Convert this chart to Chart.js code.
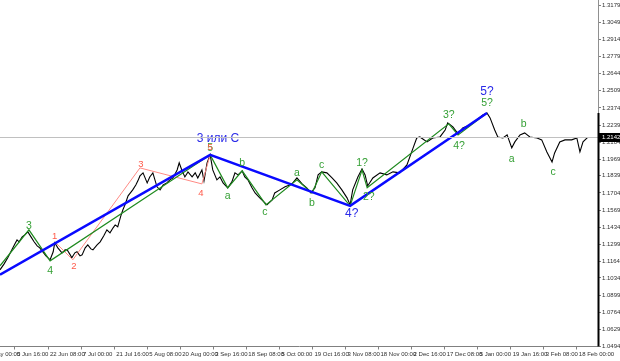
<!DOCTYPE html>
<html>
<head>
<meta charset="utf-8">
<script src="https://cdn.jsdelivr.net/npm/chart.js@4.4.1/dist/chart.umd.min.js"></script>
<style>
    html, body { margin: 0; padding: 0; background: #fff; }
    canvas { display: block; }
</style>
</head>
<body>
<canvas id="WaveChart" width="620" height="361"></canvas>
<script>
// x values are H4 bar numbers, counted from the left edge of the chart
const timeTickBars = [-35, 29, 93, 157, 221, 285, 349, 413, 477, 541, 605, 669, 733, 797, 861, 925, 989, 1053, 1117];
const timeTickLabels = ["22 May 00:00", "5 Jun 16:00", "22 Jun 08:00", "7 Jul 00:00", "21 Jul 16:00", "5 Aug 08:00",
    "20 Aug 00:00", "3 Sep 16:00", "18 Sep 08:00", "5 Oct 00:00", "19 Oct 16:00", "3 Nov 08:00", "18 Nov 00:00",
    "2 Dec 16:00", "17 Dec 08:00", "5 Jan 00:00", "19 Jan 16:00", "3 Feb 08:00", "18 Feb 00:00"];
const priceTicks = [1.3179, 1.3049, 1.2914, 1.2779, 1.2644, 1.2509, 1.2374, 1.2239, 1.2104, 1.1969, 1.1839,
    1.1704, 1.1569, 1.1434, 1.1299, 1.1164, 1.1034, 1.0899, 1.0764, 1.0629, 1.0494];
const lastPrice = 1.2142;

const priceBars = [0, 8, 15, 23, 29, 33, 37, 43, 48, 54, 60, 66, 72, 77, 83, 89, 97, 103, 106, 112,
    120, 126, 130, 136, 139, 145, 149, 155, 159, 165, 170, 176, 180, 188, 194, 201, 207, 213, 219, 223,
    228, 234, 238, 242, 248, 254, 257, 263, 267, 271, 277, 285, 290, 296, 304, 310, 316, 323, 329, 335,
    343, 347, 352, 358, 364, 372, 378, 383, 391, 395, 401, 407, 412, 420, 426, 432, 441, 449, 455, 461,
    469, 474, 480, 488, 494, 503, 513, 517, 527, 532, 542, 552, 561, 567, 575, 585, 594, 602, 610, 616,
    623, 633, 643, 652, 662, 672, 678, 683, 693, 701, 707, 712, 722, 736, 749, 761, 774, 788, 800, 807,
    813, 827, 838, 852, 862, 867, 877, 887, 896, 910, 923, 935, 943, 949, 958, 964, 974, 982, 991, 997,
    1007, 1016, 1026, 1040, 1049, 1059, 1069, 1074, 1084, 1094, 1107, 1117, 1123, 1129, 1138];
const priceCloses = [1.1098, 1.1145, 1.1193, 1.1256, 1.1303, 1.1334, 1.1319, 1.1358, 1.1374, 1.1397,
    1.1358, 1.1319, 1.1287, 1.1271, 1.1240, 1.1208, 1.1177, 1.1240, 1.1311, 1.1271,
    1.1232, 1.1256, 1.1256, 1.1216, 1.1193, 1.1232, 1.1240, 1.1208, 1.1216, 1.1271,
    1.1295, 1.1263, 1.1256, 1.1295, 1.1319, 1.1366, 1.1413, 1.1389, 1.1429, 1.1452,
    1.1437, 1.1523, 1.1571, 1.1610, 1.1681, 1.1712, 1.1728, 1.1767, 1.1799, 1.1838,
    1.1862, 1.1783, 1.1830, 1.1862, 1.1752, 1.1728, 1.1767, 1.1783, 1.1807, 1.1822,
    1.1885, 1.1941, 1.1885, 1.1830, 1.1870, 1.1830, 1.1862, 1.1822, 1.1885, 1.1799,
    1.1941, 1.2004, 1.1885, 1.1807, 1.1830, 1.1783, 1.1744, 1.1791, 1.1862, 1.1846,
    1.1877, 1.1830, 1.1807, 1.1744, 1.1704, 1.1665, 1.1626, 1.1610, 1.1649, 1.1704,
    1.1728, 1.1752, 1.1767, 1.1783, 1.1822, 1.1775, 1.1744, 1.1704, 1.1744, 1.1846,
    1.1870, 1.1862, 1.1822, 1.1783, 1.1728, 1.1665, 1.1610, 1.1728, 1.1830, 1.1893,
    1.1846, 1.1759, 1.1822, 1.1862, 1.1846, 1.1870, 1.1862, 1.1925, 1.2059, 1.2137,
    1.2145, 1.2106, 1.2137, 1.2145, 1.2200, 1.2256, 1.2224, 1.2169, 1.2216, 1.2240,
    1.2279, 1.2319, 1.2334, 1.2295, 1.2200, 1.2145, 1.2137, 1.2161, 1.2059, 1.2106,
    1.2161, 1.2177, 1.2145, 1.2137, 1.2122, 1.2027, 1.1948, 1.2019, 1.2106, 1.2122,
    1.2122, 1.2137, 1.2027, 1.2106, 1.2142];

// wave counts
const blueWaveBars = [0, 407, 678, 943];
const blueWavePrices = [1.1059, 1.2004, 1.1602, 1.2334];
const greenWaveBars = [0, 56, 97, 407, 441, 469, 515, 575, 604, 623, 678, 701, 711, 869, 887, 943];
const greenWavePrices = [1.1130, 1.1413, 1.1169, 1.2004, 1.1744, 1.1878, 1.1610, 1.1807, 1.1704, 1.1870,
    1.1602, 1.1885, 1.1744, 1.2248, 1.2161, 1.2334];
const redWaveBars = [108, 141, 271, 391, 407];
const redWavePrices = [1.1311, 1.1177, 1.1901, 1.1775, 1.2004];

const blueLabelTexts = ["3 или C", "4?", "5?"];
const blueLabelBars = [422, 681, 943];
const blueLabelPrices = [1.2130, 1.1540, 1.2500];
const greenLabelTexts = ["3", "4", "5", "a", "b", "c", "a", "b", "c", "1?", "2?", "3?", "4?", "5?", "a", "b", "c"];
const greenLabelBars = [56, 97, 407, 441, 469, 513, 575, 604, 623, 701, 714, 869, 889, 943, 991, 1014, 1071];
const greenLabelPrices = [1.1445, 1.1090, 1.2059, 1.1681, 1.1941, 1.1555, 1.1862, 1.1626, 1.1925, 1.1941,
    1.1673, 1.2318, 1.2074, 1.2413, 1.1972, 1.2248, 1.1870];
const redLabelTexts = ["1", "2", "3", "4", "5"];
const redLabelBars = [106, 143, 273, 389, 407];
const redLabelPrices = [1.1358, 1.1122, 1.1925, 1.1704, 1.2059];

const axisFont = "'Liberation Sans', Arial, sans-serif";

function toPoints(bars, values) {
    return bars.map((bar, i) => ({ x: bar, y: values[i] }));
}

function waveLine(bars, values, color, width, order) {
    return {
        data: toPoints(bars, values),
        borderColor: color,
        borderWidth: width,
        pointRadius: 0,
        tension: 0,
        order: order
    };
}

const labelsPlugin = {
    id: "waveLabels",
    afterDatasetsDraw(chart) {
        const ctx = chart.ctx;
        const xs = chart.scales.x;
        const ys = chart.scales.y;
        const draw = (texts, bars, prices, color, size) => {
            ctx.save();
            ctx.fillStyle = color;
            ctx.font = size + "px " + axisFont;
            ctx.textAlign = "center";
            ctx.textBaseline = "middle";
            texts.forEach((t, i) => ctx.fillText(t, xs.getPixelForValue(bars[i]), ys.getPixelForValue(prices[i])));
            ctx.restore();
        };
        draw(greenLabelTexts, greenLabelBars, greenLabelPrices, "#35a035", 10.5);
        draw(redLabelTexts, redLabelBars, redLabelPrices, "#ff5a4a", 9.5);
        draw(blueLabelTexts, blueLabelBars, blueLabelPrices, "#2a2ae8", 12);
    },
    afterDraw(chart) {
        const ctx = chart.ctx;
        const area = chart.chartArea;
        const ys = chart.scales.y;
        const yLast = Math.round(ys.getPixelForValue(lastPrice)) + 0.5;
        ctx.save();
        // current price line
        ctx.strokeStyle = "#c0c0c0";
        ctx.lineWidth = 1;
        ctx.beginPath();
        ctx.moveTo(area.left, yLast);
        ctx.lineTo(area.right, yLast);
        ctx.stroke();
        // dark part of the price scale, from the highest close down
        ctx.strokeStyle = "#000";
        ctx.lineWidth = 2;
        ctx.beginPath();
        ctx.moveTo(area.right + 0.5, ys.getPixelForValue(Math.max(...priceCloses)));
        ctx.lineTo(area.right + 0.5, area.bottom);
        ctx.stroke();
        // current price box
        ctx.fillStyle = "#000";
        ctx.fillRect(area.right + 1, yLast - 4.5, chart.width - area.right - 1, 9);
        ctx.fillStyle = "#fff";
        ctx.font = "6px " + axisFont;
        ctx.textBaseline = "middle";
        ctx.fillText(lastPrice.toFixed(4), area.right + 4, yLast);
        ctx.restore();
    }
};

new Chart(document.getElementById("WaveChart").getContext("2d"), {
    type: "line",
    data: {
        datasets: [
            waveLine(priceBars, priceCloses, "#000", 1.1, 4),
            waveLine(redWaveBars, redWavePrices, "#ff8a84", 1, 3),
            waveLine(greenWaveBars, greenWavePrices, "#1f8a1f", 1.2, 2),
            waveLine(blueWaveBars, blueWavePrices, "#0a0aff", 2.5, 1)
        ]
    },
    options: {
        responsive: false,
        animation: false,
        devicePixelRatio: 1,
        layout: { padding: 0 },
        plugins: { legend: { display: false }, tooltip: { enabled: false } },
        scales: {
            x: {
                type: "linear",
                min: 0,
                max: 1158,
                bounds: "data",
                grid: { drawOnChartArea: false, tickLength: 3, color: "#808080" },
                border: { color: "#808080" },
                afterBuildTicks: scale => { scale.ticks = timeTickBars.map(v => ({ value: v })); },
                afterFit: scale => {
                    scale.height = 14.5;
                    scale.paddingLeft = 0;
                    scale.paddingRight = 0;
                },
                ticks: {
                    align: "start",
                    labelOffset: 2,
                    padding: 1,
                    autoSkip: false,
                    maxRotation: 0,
                    minRotation: 0,
                    color: "#303030",
                    font: { family: axisFont, size: 6 },
                    callback: value => timeTickLabels[timeTickBars.indexOf(value)]
                }
            },
            y: {
                type: "linear",
                position: "right",
                min: 1.0494,
                max: 1.3224,
                bounds: "data",
                grid: { drawOnChartArea: false, tickLength: 3, color: "#808080" },
                border: { color: "#909090" },
                afterBuildTicks: scale => { scale.ticks = priceTicks.map(v => ({ value: v })); },
                afterFit: scale => {
                    scale.width = 22;
                    scale.paddingTop = 0;
                    scale.paddingBottom = 0;
                },
                ticks: {
                    padding: 1,
                    autoSkip: false,
                    color: "#303030",
                    font: { family: axisFont, size: 6 },
                    callback: value => value.toFixed(4)
                }
            }
        }
    },
    plugins: [labelsPlugin]
});
</script>
</body>
</html>
